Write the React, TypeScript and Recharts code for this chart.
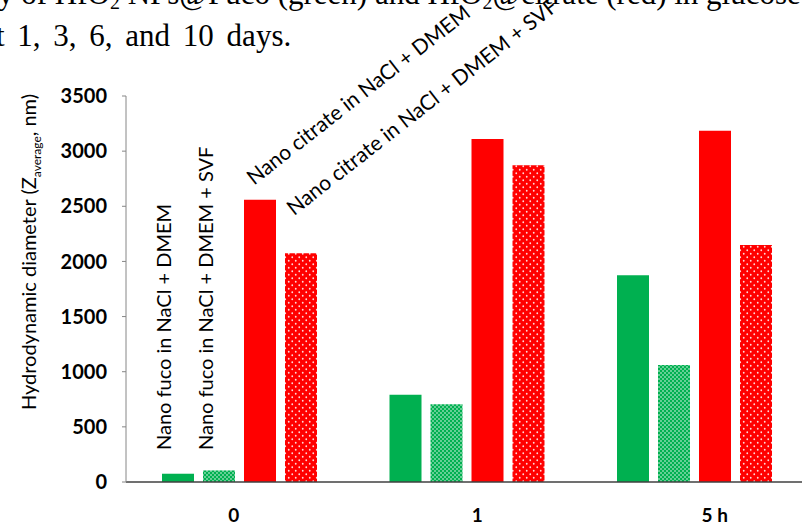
import { BarChart, Bar, XAxis, YAxis, LabelList } from 'recharts';

const categories = ['0', '1', '5 h'];
const fucoDmem = [75, 790, 1875];
const fucoSvf = [105, 705, 1060];
const citrateDmem = [2560, 3110, 3185];
const citrateSvf = [2075, 2872, 2150];
const yTicks = [0, 500, 1000, 1500, 2000, 2500, 3000, 3500];

const data = categories.map((name, i) => ({
  name,
  fucoDmem: fucoDmem[i],
  fucoSvf: fucoSvf[i],
  citrateDmem: citrateDmem[i],
  citrateSvf: citrateSvf[i],
}));

const GREEN = '#00B050';
const RED = '#FF0000';
const FONT = 'Lato, "Open Sans", sans-serif';
const SERIF = '"Liberation Serif", "Times New Roman", serif';

// the category labels sit a little off the group centres in the original
const tickNudge = [-6, 10, 20];

const XTick = ({ x, y, payload, index }: any) => (
  <text
    x={x + (tickNudge[index] || 0)}
    y={y}
    dy="0.71em"
    textAnchor="middle"
    fontFamily={FONT}
    fontWeight={700}
    fontSize={19}
    fill="#000"
  >
    {payload.value}
  </text>
);

// first-group series name, drawn rotated near the bar
const seriesLabel = (text: string, angle: number, dx: number, dy: number, size: number, fromBase = false) =>
  (props: any) => {
    const { x, y, width, height, index } = props;
    if (index !== 0) return null;
    const px = Number(x) + Number(width) / 2 + dx;
    const py = (fromBase ? Number(y) + Number(height) : Number(y)) + dy;
    return (
      <text
        transform={`translate(${px}, ${py}) rotate(${angle})`}
        textAnchor="start"
        fontFamily={FONT}
        fontSize={size}
        fill="#000"
      >
        {text}
      </text>
    );
  };

const YTitle = () => (
  <text
    transform="translate(36, 252) rotate(-90)"
    textAnchor="middle"
    fontFamily={FONT}
    fontSize={20}
    fill="#000"
  >
    Hydrodynamic diameter (Z
    <tspan fontSize={12} dy={5}>average</tspan>
    <tspan dy={-5}>, nm)</tspan>
  </text>
);

const lineStyle = {
  position: 'absolute' as const,
  fontFamily: SERIF,
  fontSize: 31,
  lineHeight: '31px',
  whiteSpace: 'nowrap' as const,
  color: '#000',
};
const subStyle = { fontSize: 20, verticalAlign: '-0.25em' };

const App = () => {
  return (
    <div style={{ position: 'absolute', left: 0, top: 0, width: 802, height: 526, overflow: 'hidden', background: '#fff' }}>
      <div style={{ ...lineStyle, left: -2, top: -22 }}>
        y of HfO<sub style={subStyle}>2</sub> NPs@Fuco (green) and HfO<sub style={subStyle}>2</sub>@citrate (red) in glucose
      </div>
      <div style={{ ...lineStyle, left: -4, top: 20, wordSpacing: 5 }}>
        t 1, 3, 6, and 10 days.
      </div>
      <div style={{ position: 'absolute', left: 0, top: 0 }}>
        <BarChart
          width={820}
          height={526}
          data={data}
          margin={{ top: 96, right: 11.5, left: 0, bottom: 0 }}
          barSize={32}
          barGap={9}
        >
          <defs>
            <pattern id="dotGreen" width="4" height="4" patternUnits="userSpaceOnUse">
              <rect width="4" height="4" fill={GREEN} />
              <circle cx="1" cy="1" r="0.8" fill="#fff" fillOpacity={0.9} />
              <circle cx="3" cy="3" r="0.8" fill="#fff" fillOpacity={0.9} />
            </pattern>
            <pattern id="dotRed" width="7" height="7" patternUnits="userSpaceOnUse">
              <rect width="7" height="7" fill={RED} />
              <circle cx="1.75" cy="1.75" r="0.9" fill="#fff" fillOpacity={0.85} />
              <circle cx="5.25" cy="5.25" r="0.9" fill="#fff" fillOpacity={0.85} />
            </pattern>
          </defs>
          <XAxis
            dataKey="name"
            height={44}
            axisLine={{ stroke: '#404040', strokeWidth: 1.3 }}
            tickLine={false}
            tickSize={0}
            tickMargin={27}
            tick={<XTick />}
            interval={0}
          />
          <YAxis
            width={126}
            domain={[0, 3500]}
            ticks={yTicks}
            interval={0}
            axisLine={{ stroke: '#868686' }}
            tickLine={{ stroke: '#868686' }}
            tickSize={4}
            tickMargin={15}
            tick={{ fontFamily: FONT, fontWeight: 700, fontSize: 20, fill: '#000' }}
            label={{ content: () => <YTitle /> }}
          />
          <Bar dataKey="fucoDmem" fill={GREEN} isAnimationActive={false}>
            <LabelList content={seriesLabel('Nano fuco in NaCl + DMEM', -90, -7, -32, 20, true)} />
          </Bar>
          <Bar dataKey="fucoSvf" fill="url(#dotGreen)" isAnimationActive={false}>
            <LabelList content={seriesLabel('Nano fuco in NaCl + DMEM + SVF', -90, -6, -32, 20, true)} />
          </Bar>
          <Bar dataKey="citrateDmem" fill={RED} isAnimationActive={false}>
            <LabelList content={seriesLabel('Nano citrate in NaCl + DMEM', -38, -6, -14, 21)} />
          </Bar>
          <Bar dataKey="citrateSvf" fill="url(#dotRed)" isAnimationActive={false}>
            <LabelList content={seriesLabel('Nano citrate in NaCl + DMEM + SVF', -38, -7, -37, 21)} />
          </Bar>
        </BarChart>
      </div>
    </div>
  );
};

export default App;
